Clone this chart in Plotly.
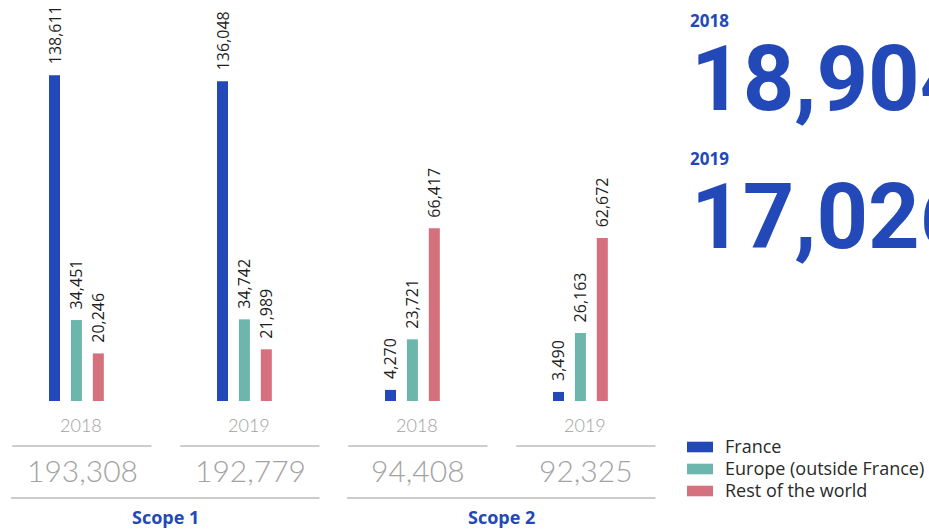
import plotly.graph_objects as go

# ---- data ----
scopes = ["Scope 1", "Scope 2"]
years = ["2018", "2019", "2018", "2019"]
series_names = ["France", "Europe (outside France)", "Rest of the world"]
france = [138611, 136048, 4270, 3490]
europe = [34451, 34742, 23721, 26163]
rest = [20246, 21989, 66417, 62672]
totals = [193308, 192779, 94408, 92325]
highlight_years = ["2018", "2019"]
highlight_values = [18904, 17026]

# ---- style ----
W, H = 929, 530
BLUE = "#2249b7"
colors = ["#2249b7", "#6db6ae", "#d5707f"]
FONT = "Open Sans"
LIGHT = "Lato"
BIG = "Roboto"


def fx(p):
    return p / W


def fy(p):
    return 1 - p / H


slot = 0.1304
bw = 0.0655
values = [france, europe, rest]
scope_idx = [([0, 1], "y"), ([2, 3], "y2")]

fig = go.Figure()
for k, (name, vals, col) in enumerate(zip(series_names, values, colors)):
    off = (k - 1) * slot
    for idx, yax in scope_idx:
        fig.add_trace(go.Bar(
            x=idx, y=[vals[i] for i in idx], name=name,
            marker=dict(color=col, line=dict(width=0)),
            width=bw, offset=off - bw / 2, yaxis=yax,
            showlegend=False, hoverinfo="skip"))
        for i in idx:
            fig.add_annotation(
                x=i + off, y=vals[i], xref="x", yref=yax,
                text=f"{vals[i]:,}", textangle=-90,
                xanchor="center", yanchor="bottom", yshift=9,
                showarrow=False,
                font=dict(family=FONT, size=16, color="#1e1e1e"))

shapes = []
# year labels, separators and totals
for i, (yr, tot) in enumerate(zip(years, totals)):
    fig.add_annotation(x=i, y=fy(424.5), xref="x", yref="paper", xshift=4.5,
                       text=yr, showarrow=False, yanchor="middle",
                       font=dict(family=LIGHT, size=18, color="#a0a0a0", weight=300))
    fig.add_annotation(x=i, y=fy(470), xref="x", yref="paper", xshift=6,
                       text=f"{tot:,}", showarrow=False, yanchor="middle",
                       font=dict(family=LIGHT, size=30, color="#a3a3a3", weight=300))
    shapes.append(dict(type="line", xref="x", yref="paper",
                       x0=i - 0.3815, x1=i + 0.447, y0=fy(446), y1=fy(446),
                       line=dict(color="#9a9a9a", width=1)))

for s, (idx, _) in enumerate(scope_idx):
    shapes.append(dict(type="line", xref="x", yref="paper",
                       x0=idx[0] - 0.389, x1=idx[-1] + 0.447,
                       y0=fy(498), y1=fy(498),
                       line=dict(color="#cbcbcb", width=2)))
    fig.add_annotation(x=(idx[0] + idx[-1]) / 2, y=fy(516.5), xref="x", yref="paper",
                       xshift=5, text=f"<b>{scopes[s]}</b>", showarrow=False,
                       yanchor="middle",
                       font=dict(family=FONT, size=18, color=BLUE))

# right-side highlight numbers
for j, (yr, val) in enumerate(zip(highlight_years, highlight_values)):
    base = j * 137.5
    fig.add_annotation(x=fx(688), y=fy(21 + base), xref="paper", yref="paper",
                       text=f"<b>{yr}</b>", showarrow=False,
                       xanchor="left", yanchor="middle",
                       font=dict(family=FONT, size=17, color=BLUE))
    fig.add_annotation(x=fx(689), y=fy(79.5 + base), xref="paper", yref="paper",
                       text=f"<b>{val:,}</b>", showarrow=False,
                       xanchor="left", yanchor="middle",
                       font=dict(family=BIG, size=90, color=BLUE))

# legend
for k, (name, col) in enumerate(zip(series_names, colors)):
    yc = 447 + k * 22
    shapes.append(dict(type="rect", xref="paper", yref="paper",
                       x0=fx(687), x1=fx(713), y0=fy(yc - 5.3), y1=fy(yc + 5.3),
                       fillcolor=col, line=dict(width=0)))
    fig.add_annotation(x=fx(723), y=fy(yc - 1), xref="paper", yref="paper",
                       text=name, showarrow=False, xanchor="left", yanchor="middle",
                       font=dict(family=FONT, size=18, color="#2a2a2a"))

fig.update_layout(
    width=W, height=H, margin=dict(l=0, r=0, t=0, b=0),
    plot_bgcolor="white", paper_bgcolor="white",
    barmode="overlay", showlegend=False,
    font=dict(family=FONT),
    shapes=shapes,
    xaxis=dict(domain=[0, 672 / W], range=[-0.4548, 3.5452], visible=False, fixedrange=True),
    yaxis=dict(domain=[1 - 401 / H, 1], range=[0, 401 / 2.35 * 1000], visible=False, fixedrange=True),
    yaxis2=dict(overlaying="y", range=[0, 401 / 2.6 * 1000], visible=False, fixedrange=True),
)

fig.write_html("out.html", config={"displayModeBar": False},
               post_script="document.body.style.margin='0';")
